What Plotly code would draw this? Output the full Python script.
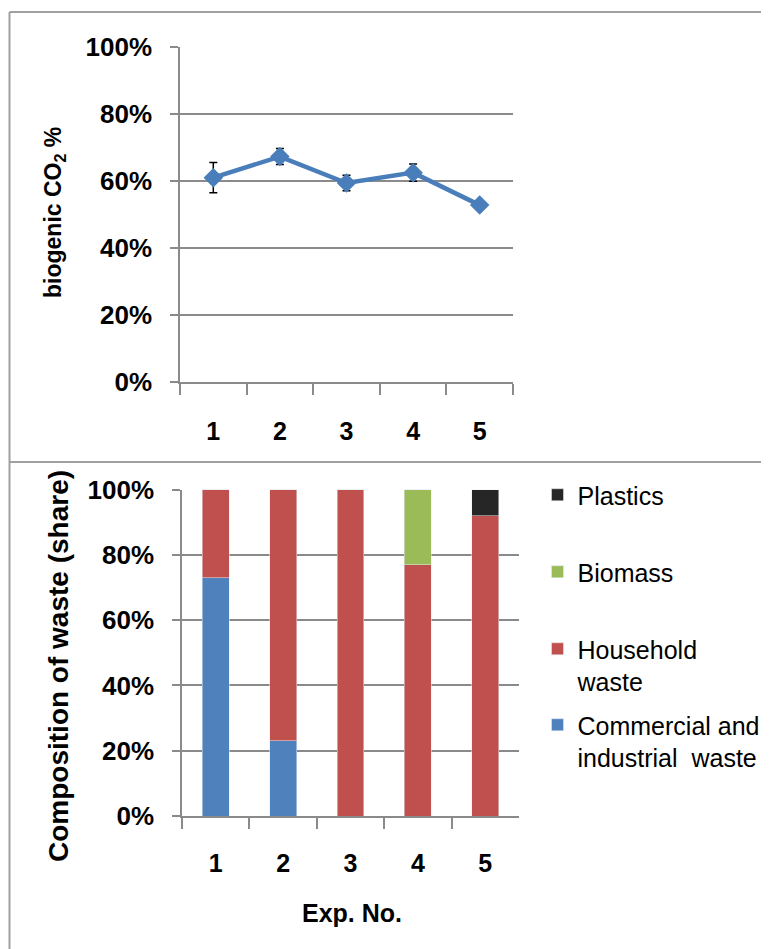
import plotly.graph_objects as go

# The page body has an 8px default margin; the figure is sized so that
# figure + margin fills the 769x949 window exactly.
PAGE_W, PAGE_H = 769, 949
OFF = 8
W, H = PAGE_W - OFF, PAGE_H - OFF

# ---------------- data ----------------
exp_labels = ["1", "2", "3", "4", "5"]
biogenic_co2 = [0.61, 0.673, 0.594, 0.625, 0.528]
biogenic_err = [0.045, 0.024, 0.023, 0.026, 0.008]

commercial = [0.73, 0.23, 0.0, 0.0, 0.0]
household = [0.27, 0.77, 1.0, 0.77, 0.92]
biomass = [0.0, 0.0, 0.0, 0.23, 0.0]
plastics = [0.0, 0.0, 0.0, 0.0, 0.08]

y_tickvals = [0, 0.2, 0.4, 0.6, 0.8, 1.0]
y_ticktext = ["0%", "20%", "40%", "60%", "80%", "100%"]


def px(x):
    """page pixel x -> paper fraction"""
    return (x - OFF) / W


def py(y):
    """page pixel y (from top) -> paper fraction"""
    return 1 - (y - OFF) / H


FONT = "Liberation Sans, Arial, sans-serif"
GRAY = "#8a8a8a"

fig = go.Figure()

# top chart: biogenic CO2 share
fig.add_trace(go.Scatter(
    x=exp_labels, y=biogenic_co2, mode="lines+markers",
    line=dict(color="#4a7ebb", width=4.5),
    marker=dict(symbol="diamond", size=15, color="#4a7ebb"),
    error_y=dict(type="data", array=biogenic_err, color="#000000",
                 thickness=1.5, width=4),
    xaxis="x", yaxis="y", showlegend=False, name="biogenic CO2"))

# bottom chart: composition of waste
bar_series = [
    ("Commercial and<br>industrial  waste", commercial, "#4F81BD", "legend4"),
    ("Household<br>waste", household, "#C0504D", "legend3"),
    ("Biomass", biomass, "#9BBB59", "legend2"),
    ("Plastics", plastics, "#262626", "legend"),
]
for name, vals, col, lg in bar_series:
    fig.add_trace(go.Bar(
        x=exp_labels, y=vals, name=name, marker=dict(color=col),
        xaxis="x2", yaxis="y2", legend=lg))

axis_common = dict(
    showline=True, linecolor=GRAY, linewidth=1.5,
    ticks="outside", tickcolor=GRAY, tickwidth=1.5,
)
xfont = dict(family=FONT, size=25, color="#000000", weight="bold")
yfont = dict(family=FONT, size=26, color="#000000", weight="bold")
cat_range = [-0.5, len(exp_labels) - 0.5]

fig.update_layout(
    width=W, height=H,
    margin=dict(l=0, r=0, t=0, b=0, autoexpand=False),
    paper_bgcolor="white", plot_bgcolor="white",
    barmode="stack", bargap=0.6,
    xaxis=dict(domain=[px(180), px(513)], anchor="y", type="category",
               range=cat_range, tickson="boundaries", ticklen=11,
               showgrid=False, ticklabelstandoff=26, tickfont=xfont,
               **axis_common),
    yaxis=dict(domain=[py(382), py(47)], anchor="x", range=[0, 1],
               tickvals=y_tickvals, ticktext=y_ticktext, ticklen=8,
               showgrid=True, gridcolor=GRAY, gridwidth=1.5, zeroline=False,
               ticklabelstandoff=13, tickfont=yfont, **axis_common),
    xaxis2=dict(domain=[px(182), px(519)], anchor="y2", type="category",
                range=cat_range, tickson="boundaries", ticklen=11,
                showgrid=False, ticklabelstandoff=24, tickfont=xfont,
                **axis_common),
    yaxis2=dict(domain=[py(816), py(489.5)], anchor="x2", range=[0, 1],
                tickvals=y_tickvals, ticktext=y_ticktext, ticklen=8,
                showgrid=True, gridcolor=GRAY, gridwidth=1.5, zeroline=False,
                ticklabelstandoff=13, tickfont=yfont, **axis_common),
)

leg_font = dict(family=FONT, size=25, color="#000000")
leg_common = dict(xanchor="left", yanchor="top", font=leg_font,
                  bgcolor="rgba(0,0,0,0)", valign="top")
fig.update_layout(
    legend=dict(x=px(537.5), y=py(472), **leg_common),
    legend2=dict(x=px(537.5), y=py(549), **leg_common),
    legend3=dict(x=px(537.5), y=py(626), **leg_common),
    legend4=dict(x=px(537.5), y=py(702), **leg_common),
)

# axis titles
fig.add_annotation(text="biogenic CO<sub>2</sub> %", x=px(55), y=py(213),
                   xref="paper", yref="paper", xanchor="center",
                   yanchor="middle", textangle=-90, showarrow=False,
                   font=dict(family=FONT, size=23, color="#000000", weight="bold"))
fig.add_annotation(text="Composition of waste (share)", x=px(58), y=py(666),
                   xref="paper", yref="paper", xanchor="center",
                   yanchor="middle", textangle=-90, showarrow=False,
                   font=dict(family=FONT, size=28, color="#000000", weight="bold"))
fig.add_annotation(text="Exp. No.", x=px(352), y=py(913),
                   xref="paper", yref="paper", xanchor="center",
                   yanchor="middle", showarrow=False,
                   font=dict(family=FONT, size=25, color="#000000", weight="bold"))

# chart-object borders
border = dict(color="#a0a0a0", width=2)
fig.add_shape(type="line", xref="paper", yref="paper",
              x0=px(9.5), x1=px(9.5), y0=py(12), y1=py(949), line=border)
fig.add_shape(type="line", xref="paper", yref="paper",
              x0=px(9.5), x1=1.0, y0=py(12), y1=py(12), line=border)
fig.add_shape(type="line", xref="paper", yref="paper",
              x0=px(9.5), x1=1.0, y0=py(462), y1=py(462), line=border)

fig.write_html("out.html")
